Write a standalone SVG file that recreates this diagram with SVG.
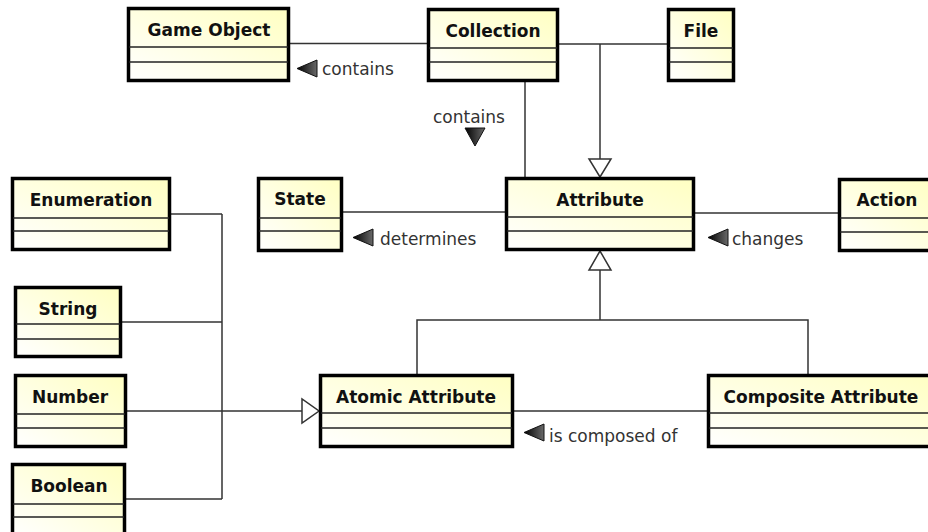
<svg xmlns="http://www.w3.org/2000/svg" xmlns:xlink="http://www.w3.org/1999/xlink" width="928" height="532" viewBox="0 0 928 532">
  <defs>
    <linearGradient id="boxFill" x1="0" y1="1" x2="1" y2="0">
      <stop offset="0" stop-color="#ffffff"/>
      <stop offset="1" stop-color="#ffffc2"/>
    </linearGradient>
    <linearGradient id="dirFill" x1="0" y1="0" x2="1" y2="0">
      <stop offset="0" stop-color="#000000"/>
      <stop offset="1" stop-color="#6a6a6a"/>
    </linearGradient>
    <!-- reading-direction arrow for association names, pointing left -->
    <polygon id="dirLeft" points="0,8.5 20,0 20,17" fill="url(#dirFill)" stroke="#111" stroke-width="1"/>
    <style>
      .box { fill: url(#boxFill); stroke: #000; stroke-width: 3.5; }
      .div { stroke: #222; stroke-width: 1.3; }
      .title { font-family: "DejaVu Sans", sans-serif; font-weight: bold; font-size: 17px; fill: #111; text-anchor: middle; }
      .lbl { font-family: "DejaVu Sans", sans-serif; font-size: 17px; fill: #333; }
      .line { fill: none; stroke: #333; stroke-width: 1.5; }
      .gen { fill: #fff; stroke: #333; stroke-width: 1.5; }
    </style>
  </defs>
  <rect width="928" height="532" fill="#fff"/>

  <!-- connectors -->
  <g id="connectors">
    <!-- Game Object - Collection -->
    <line class="line" x1="290" y1="43.5" x2="427" y2="43.5"/>
    <use xlink:href="#dirLeft" x="297" y="60"/>
    <text class="lbl" x="322" y="75">contains</text>
    <!-- Collection - File -->
    <line class="line" x1="559" y1="44" x2="667" y2="44"/>
    <!-- Collection / File generalize Attribute -->
    <line class="line" x1="600" y1="44" x2="600" y2="159"/>
    <polygon class="gen" points="589,159 611,159 600,177"/>
    <!-- Collection - Attribute -->
    <line class="line" x1="525" y1="82" x2="525" y2="177"/>
    <text class="lbl" x="433" y="123">contains</text>
    <polygon points="465,128 485,128 475,146" fill="url(#dirFill)" stroke="#111" stroke-width="1"/>
    <!-- State - Attribute -->
    <line class="line" x1="343" y1="212" x2="505" y2="212"/>
    <use xlink:href="#dirLeft" x="353" y="229"/>
    <text class="lbl" x="380" y="245">determines</text>
    <!-- Attribute - Action -->
    <line class="line" x1="695" y1="213" x2="838" y2="213"/>
    <use xlink:href="#dirLeft" x="708" y="229"/>
    <text class="lbl" x="732" y="245">changes</text>
    <!-- Atomic / Composite generalize Attribute -->
    <path class="line" d="M600,270 V320 M417,374 V320 H808 V374"/>
    <polygon class="gen" points="600,251 589,270 611,270"/>
    <!-- primitive types generalize Atomic Attribute -->
    <path class="line" d="M171,214 H222 M122,322 H222 M127,411 H302 M126,499 H222 M222,214 V499"/>
    <polygon class="gen" points="302,399 302,423 319,411"/>
    <!-- Atomic Attribute - Composite Attribute -->
    <line class="line" x1="514" y1="411" x2="707" y2="411"/>
    <use xlink:href="#dirLeft" x="524" y="424"/>
    <text class="lbl" x="549" y="442">is composed of</text>
  </g>

  <!-- classes -->
  <g id="game-object">
    <rect class="box" x="128.5" y="8.5" width="160" height="72"/>
    <line class="div" x1="129" y1="47" x2="288" y2="47"/>
    <line class="div" x1="129" y1="62" x2="288" y2="62"/>
    <text class="title" x="209" y="36">Game Object</text>
  </g>
  <g id="collection">
    <rect class="box" x="428.5" y="9.5" width="129" height="71"/>
    <line class="div" x1="429" y1="48" x2="557" y2="48"/>
    <line class="div" x1="429" y1="62" x2="557" y2="62"/>
    <text class="title" x="493" y="37">Collection</text>
  </g>
  <g id="file">
    <rect class="box" x="668.5" y="9.5" width="65" height="71"/>
    <line class="div" x1="669" y1="48" x2="733" y2="48"/>
    <line class="div" x1="669" y1="62" x2="733" y2="62"/>
    <text class="title" x="701" y="37">File</text>
  </g>
  <g id="attribute">
    <rect class="box" x="506.5" y="178.5" width="187" height="71"/>
    <line class="div" x1="507" y1="217" x2="693" y2="217"/>
    <line class="div" x1="507" y1="231" x2="693" y2="231"/>
    <text class="title" x="600" y="206">Attribute</text>
  </g>
  <g id="state">
    <rect class="box" x="258.5" y="178.5" width="83" height="72"/>
    <line class="div" x1="259" y1="218" x2="341" y2="218"/>
    <line class="div" x1="259" y1="231" x2="341" y2="231"/>
    <text class="title" x="300" y="205">State</text>
  </g>
  <g id="action">
    <rect class="box" x="839.5" y="179.5" width="95" height="71"/>
    <line class="div" x1="840" y1="218" x2="934" y2="218"/>
    <line class="div" x1="840" y1="232" x2="934" y2="232"/>
    <text class="title" x="887" y="206">Action</text>
  </g>
  <g id="enumeration">
    <rect class="box" x="12.5" y="178.5" width="157" height="71"/>
    <line class="div" x1="13" y1="218" x2="169" y2="218"/>
    <line class="div" x1="13" y1="231" x2="169" y2="231"/>
    <text class="title" x="91" y="206">Enumeration</text>
  </g>
  <g id="string">
    <rect class="box" x="15.5" y="287.5" width="105" height="69"/>
    <line class="div" x1="16" y1="324" x2="120" y2="324"/>
    <line class="div" x1="16" y1="339" x2="120" y2="339"/>
    <text class="title" x="68" y="315">String</text>
  </g>
  <g id="number">
    <rect class="box" x="15.5" y="375.5" width="110" height="71"/>
    <line class="div" x1="16" y1="414" x2="125" y2="414"/>
    <line class="div" x1="16" y1="428" x2="125" y2="428"/>
    <text class="title" x="70" y="403">Number</text>
  </g>
  <g id="boolean">
    <rect class="box" x="12.5" y="464.5" width="112" height="72"/>
    <line class="div" x1="13" y1="504" x2="124" y2="504"/>
    <line class="div" x1="13" y1="517" x2="124" y2="517"/>
    <text class="title" x="69" y="492">Boolean</text>
  </g>
  <g id="atomic-attribute">
    <rect class="box" x="320.5" y="375.5" width="192" height="71"/>
    <line class="div" x1="321" y1="413" x2="512" y2="413"/>
    <line class="div" x1="321" y1="428" x2="512" y2="428"/>
    <text class="title" x="416" y="403">Atomic Attribute</text>
  </g>
  <g id="composite-attribute">
    <rect class="box" x="708.5" y="375.5" width="227" height="71"/>
    <line class="div" x1="709" y1="413" x2="934" y2="413"/>
    <line class="div" x1="709" y1="428" x2="934" y2="428"/>
    <text class="title" x="821" y="403">Composite Attribute</text>
  </g>
</svg>
